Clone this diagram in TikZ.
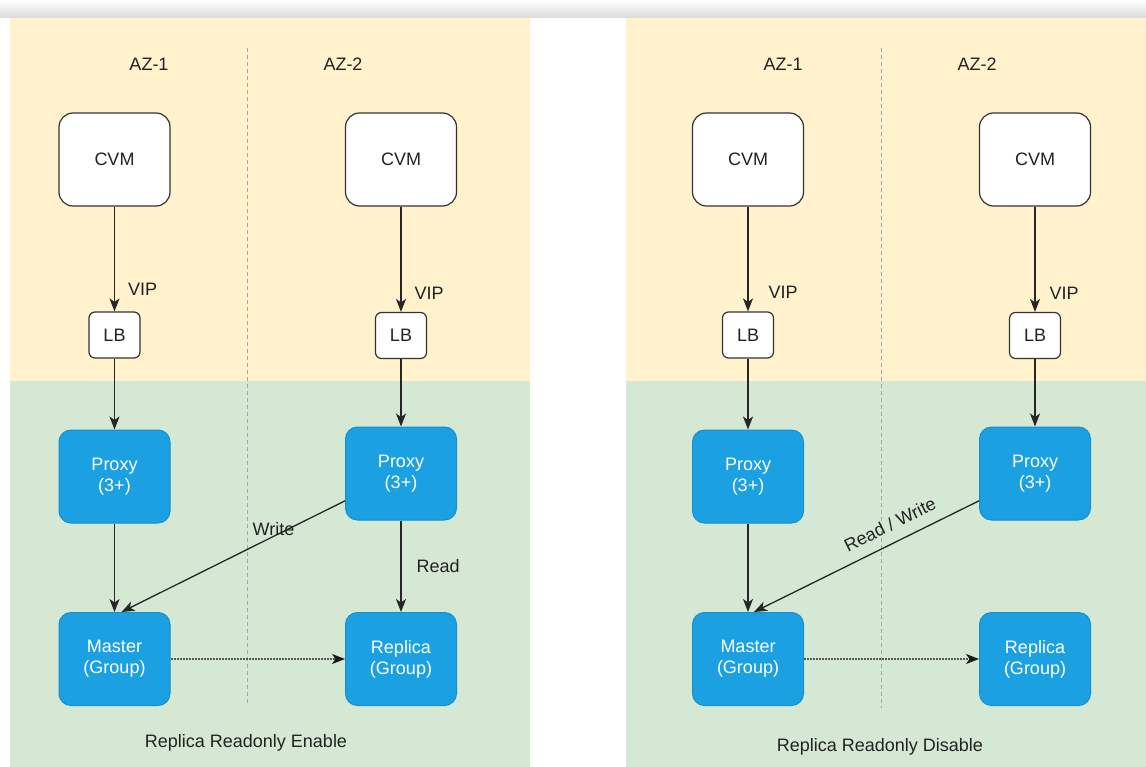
\documentclass[tikz,border=0pt]{standalone}
\usepackage{fontspec}
\setmainfont{Liberation Sans}
\usetikzlibrary{arrows.meta}
\definecolor{yel}{HTML}{FFF2CC}
\definecolor{grn}{HTML}{D5E8D4}
\definecolor{blu}{HTML}{1BA1E2}
\definecolor{bluD}{HTML}{168FCC}
\definecolor{txt}{HTML}{222222}
\begin{document}
\begin{tikzpicture}[x=1pt,y=-1pt,
  font=\fontsize{18}{21}\selectfont,
  whitebox/.style={draw=black!80, fill=white, line width=1.2pt, rounded corners=14pt,
    minimum width=111pt, minimum height=93pt, text=txt},
  lbbox/.style={draw=black!80, fill=white, line width=1.2pt, rounded corners=6pt,
    minimum width=51pt, minimum height=46pt, text=txt},
  bluebox/.style={draw=bluD, fill=blu, line width=1pt, rounded corners=12pt,
    minimum width=111pt, minimum height=93pt, text=white, align=center},
  arr/.style={draw=black!85, line width=1.3pt, -{Stealth[length=13pt,width=10pt,inset=3.5pt]}},
  reparr/.style={draw=black!65, line width=1.2pt, dash pattern=on 2pt off 1pt,
    -{Stealth[length=13pt,width=10pt,inset=3.5pt,color=black!90]}},
  sep/.style={draw=black!35, line width=0.9pt, dash pattern=on 4pt off 3pt},
  lbl/.style={inner sep=0pt, text=txt},
]
\useasboundingbox (0,0) rectangle (1146,767);
\fill[white] (0,0) rectangle (1146,767);
\shade[top color=white, bottom color=black!14] (0,0) rectangle (1146,18);
% panels
\fill[yel] (10,18) rectangle (530,381);
\fill[grn] (10,381) rectangle (530,767);
\fill[yel] (626,18) rectangle (1146,381);
\fill[grn] (626,381) rectangle (1146,767);
\draw[sep] (247,48) -- (247,705);
\draw[sep] (881,48) -- (881,708);

% ---------- left panel ----------
\node[lbl] (az1) at (149,64) {AZ-1};
\node[lbl] (az2) at (343,64) {AZ-2};
\node[whitebox] (cvm1) at (114.5,159.5) {CVM};
\node[whitebox] (cvm2) at (401,159.5) {CVM};
\node[lbbox] (lb1) at (114.5,335) {LB};
\node[lbbox] (lb2) at (401,335.5) {LB};
\node[bluebox] (p1) at (114.5,476.5) {Proxy\\(3+)};
\node[bluebox] (p2) at (401,473.5) {Proxy\\(3+)};
\node[bluebox] (m1) at (114.5,659) {Master\\(Group)};
\node[bluebox] (r1) at (401,659) {Replica\\(Group)};
\draw[arr] (cvm1.south) -- node[lbl, pos=0.79, right=13pt] {VIP} (lb1.north);
\draw[arr] (cvm2.south) -- node[lbl, pos=0.82, right=13pt] {VIP} (lb2.north);
\draw[arr] (lb1.south) -- (p1.north);
\draw[arr] (lb2.south) -- (p2.north);
\draw[arr] (p1.south) -- (m1.north);
\draw[arr] (p2.south) -- node[lbl, midway, right=15pt] {Read} (r1.north);
\draw[arr] (p2.206) -- node[lbl, pos=0.32, yshift=7pt] {Write} ([xshift=7pt]m1.north);
\draw[reparr] (m1.east) -- (r1.west);
\node[lbl] (t1) at (246,743) {Replica Readonly Enable};

% ---------- right panel ----------
\node[lbl] (az3) at (783,64) {AZ-1};
\node[lbl] (az4) at (977,64) {AZ-2};
\node[whitebox] (cvm3) at (748,159.5) {CVM};
\node[whitebox] (cvm4) at (1035,159.5) {CVM};
\node[lbbox] (lb3) at (748,335) {LB};
\node[lbbox] (lb4) at (1035,335.5) {LB};
\node[bluebox] (p3) at (748,476.5) {Proxy\\(3+)};
\node[bluebox] (p4) at (1035,473.5) {Proxy\\(3+)};
\node[bluebox] (m2) at (748,659) {Master\\(Group)};
\node[bluebox] (r2) at (1035,659) {Replica\\(Group)};
\draw[arr] (cvm3.south) -- node[lbl, pos=0.82, right=20pt] {VIP} (lb3.north);
\draw[arr] (cvm4.south) -- node[lbl, pos=0.82, right=14pt] {VIP} (lb4.north);
\draw[arr] (lb3.south) -- (p3.north);
\draw[arr] (lb4.south) -- (p4.north);
\draw[arr] (p3.south) -- (m2.north);
\draw[arr] (p4.206) -- node[lbl, pos=0.36, sloped, above=11pt] {Read / Write} ([xshift=6pt]m2.north);
\draw[reparr] (m2.east) -- (r2.west);
\node[lbl] (t2) at (880,747) {Replica Readonly Disable};
\end{tikzpicture}
\end{document}
